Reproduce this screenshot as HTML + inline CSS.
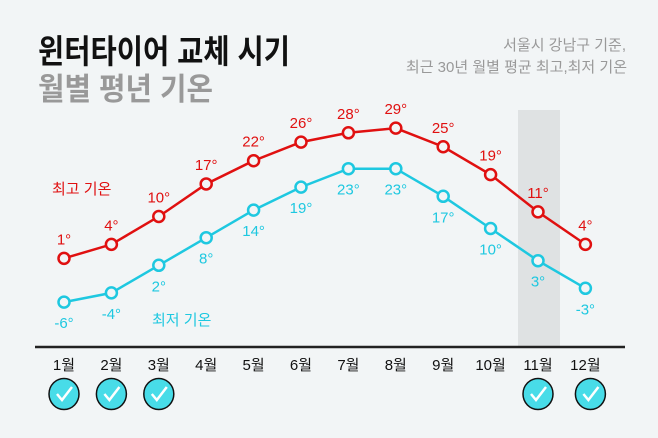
<!DOCTYPE html>
<html><head><meta charset="utf-8"><style>
body{margin:0;width:658px;height:438px;background:#f2f5f6;overflow:hidden;font-family:"Liberation Sans","Noto Sans CJK KR",sans-serif}
svg{position:absolute;left:0;top:0}
</style></head><body>
<svg width="658" height="438" id="c">
<text x="38" y="63" font-size="33" font-weight="bold" fill="#111" textLength="252" lengthAdjust="spacingAndGlyphs" font-family="Liberation Sans,Noto Sans CJK KR,sans-serif">윈터타이어 교체 시기</text>
<text x="38" y="100" font-size="31" font-weight="bold" fill="#999" textLength="175" lengthAdjust="spacingAndGlyphs" font-family="Liberation Sans,Noto Sans CJK KR,sans-serif">월별 평년 기온</text>
<text x="626" y="50" font-size="15" fill="#999" text-anchor="end" font-family="Liberation Sans,Noto Sans CJK KR,sans-serif">서울시 강남구 기준,</text>
<text x="627" y="72" font-size="15" fill="#999" text-anchor="end" font-family="Liberation Sans,Noto Sans CJK KR,sans-serif">최근 30년 월별 평균 최고,최저 기온</text>
<rect x="518" y="110" width="42" height="236" fill="#dfe2e3"/>
<line x1="35" y1="347" x2="625" y2="347" stroke="#222" stroke-width="2.5"/>
<text x="52" y="194" font-size="15" fill="#e01010" font-family="Liberation Sans,Noto Sans CJK KR,sans-serif">최고 기온</text>
<text x="152" y="325" font-size="15" fill="#1ec8e0" font-family="Liberation Sans,Noto Sans CJK KR,sans-serif">최저 기온</text>
<g id="g"></g>
</svg>
<script>
const months=["1월","2월","3월","4월","5월","6월","7월","8월","9월","10월","11월","12월"];
const highs=[1,4,10,17,22,26,28,29,25,19,11,4];
const lows=[-6,-4,2,8,14,19,23,23,17,10,3,-3];
const checked=[true,true,true,false,false,false,false,false,false,false,true,true];
const NS="http://www.w3.org/2000/svg";
const g=document.getElementById('g');
const x=i=>64+i*47.4;
const yH=v=>263-4.65*v;
const yL=v=>274.5-4.6*v;
function mk(t,a){const e=document.createElementNS(NS,t);for(const k in a)e.setAttribute(k,a[k]);g.appendChild(e);return e;}
function series(vals,yf,col,nm,off){
  const p=mk('polyline',{points:vals.map((v,i)=>x(i)+','+yf(v)).join(' '),fill:'none',stroke:col,'stroke-width':2.5});
  
  
  vals.forEach((v,i)=>{
    const c=mk('circle',{cx:x(i),cy:yf(v),r:5.5,fill:'#f2f5f6',stroke:col,'stroke-width':2.5});
    
    
    const t=mk('text',{x:x(i),y:yf(v)+off,'font-size':15,fill:col,'text-anchor':'middle'});
    t.textContent=v+'°';
    
    
  });
}
series(highs,yH,'#e01010','high-temp',-14);
series(lows,yL,'#1ec8e0','low-temp',26);
months.forEach((m,i)=>{
  const t=mk('text',{x:x(i),y:370,'font-size':15,fill:'#111','text-anchor':'middle'});
  t.textContent=m;
  
  
  if(checked[i]){
    const cx=x(i)+(i==11?5:0);
    const c=mk('ellipse',{cx:cx,cy:394,rx:15,ry:15.5,fill:'#48dce8',stroke:'#111','stroke-width':1.5});
    
    
    const k=mk('polyline',{points:(cx-7)+',394 '+(cx-2)+',400 '+(cx+8)+',387',fill:'none',stroke:'#fff','stroke-width':2.5});
    
    
  }
});
</script>
</body></html>
